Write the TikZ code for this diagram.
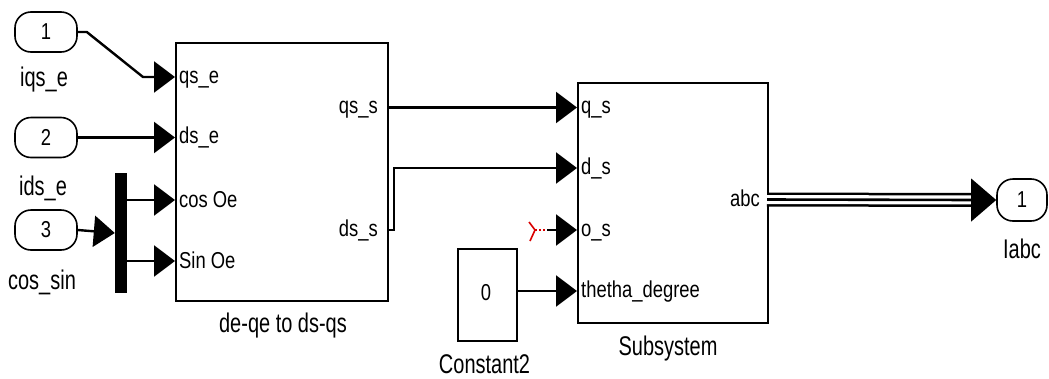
\documentclass[tikz,border=0pt]{standalone}
\usepackage{fontspec}
\newfontfamily\inlblfont[FakeStretch=0.8]{Liberation Sans}
\newfontfamily\outlblfont[FakeStretch=0.74]{Liberation Sans}
\usetikzlibrary{arrows.meta,calc}
\newcommand\skin{\inlblfont\fontsize{23}{23}\selectfont}
\newcommand\skout{\outlblfont\fontsize{27}{27}\selectfont}
\tikzset{
  blk/.style={draw, line width=1.8pt, inner sep=0pt, anchor=north west},
  port/.style={draw, line width=1.6pt, rounded corners=16pt, minimum width=62pt,
               minimum height=40pt, inner sep=0pt, font=\skin},
  inl/.style={font=\skin, inner sep=0pt},
  outl/.style={font=\skout, inner sep=0pt, anchor=base},
  sig/.style={line width=2.4pt},
  arr/.style={sig, -{Triangle[length=21pt,width=31pt]}},
}
\begin{document}
\begin{tikzpicture}[x=1pt,y=-1pt]
\useasboundingbox (0,0) rectangle (1049,378);

% inports
\node[port] (in1) at (46,32) {1};
\node[port] (in2) at (46,137.5) {2};
\node[port] (in3) at (46,230) {3};
\node[outl] at (44,86) {iqs\_e};
\node[outl] at (43,195) {ids\_e};
\node[outl] at (42,289) {cos\_sin};

% mux bar
\node[fill, minimum width=12pt, minimum height=120pt, inner sep=0pt] (mux) at (121,233) {};

% de-qe to ds-qs block
\node[blk, minimum width=212pt, minimum height=258pt] (b1) at (175,42) {};
\coordinate (b1i1) at (175,77);
\coordinate (b1i2) at (175,137.5);
\coordinate (b1i3) at (175,200);
\coordinate (b1i4) at (175,261);
\coordinate (b1o1) at (387,107.5);
\coordinate (b1o2) at (387,230);
\node[inl, anchor=base west] at ($(b1i1)+(4,6)$) {qs\_e};
\node[inl, anchor=base west] at ($(b1i2)+(4,6)$) {ds\_e};
\node[inl, anchor=base west] at ($(b1i3)+(4,7)$) {cos Oe};
\node[inl, anchor=base west] at ($(b1i4)+(4,7)$) {Sin Oe};
\node[inl, anchor=base east] at ($(b1o1)+(-9,6)$) {qs\_s};
\node[inl, anchor=base east] at ($(b1o2)+(-9,6)$) {ds\_s};
\node[outl] at (283,332) {de-qe to ds-qs};

% constant block
\node[blk, minimum width=59pt, minimum height=92pt] (c2) at (457,248) {};
\coordinate (c2o) at (516,291);
\node[inl, anchor=base] at (486,300) {0};
\node[outl] at (484.5,373) {Constant2};

% subsystem block
\node[blk, minimum width=190pt, minimum height=240pt] (sub) at (577,82) {};
\coordinate (s1) at (577,107.5);
\coordinate (s2) at (577,168);
\coordinate (s3) at (577,230);
\coordinate (s4) at (577,291);
\coordinate (so) at (767,199.5);
\node[inl, anchor=base west] at ($(s1)+(4,6)$) {q\_s};
\node[inl, anchor=base west] at ($(s2)+(4,6)$) {d\_s};
\node[inl, anchor=base west] at ($(s3)+(4,6)$) {o\_s};
\node[inl, anchor=base west] at ($(s4)+(4,6)$) {thetha\_degree};
\node[inl, anchor=base east] at ($(so)+(-7,7)$) {abc};
\node[outl] at (668,355) {Subsystem};

% outport
\node[port, minimum width=50pt, minimum height=42pt] (out1) at (1022,200) {1};
\node[outl] at (1022,258) {Iabc};

% signal lines
\draw[arr] (in1.east) -- ++(9,0) -- (143,77) -- (b1i1);
\draw[arr] (in2.east) -- (b1i2);
\draw[arr] (in3.east) -- (mux.west);
\draw[arr] (mux.east |- b1i3) -- (b1i3);
\draw[arr] (mux.east |- b1i4) -- (b1i4);
\draw[arr] (b1o1) -- (s1);
\draw[arr] (b1o2) -- ++(7,0) |- (s2);
\draw[arr] (c2o) -- (s4);

% unconnected input
\coordinate (fork) at (535,230);
\draw[red!85!black, line width=1.6pt] (529,222) -- (fork) -- (530,241);
\draw[red!85!black, line width=1.6pt, dash pattern=on 2pt off 2pt] (fork) -- (549,230);
\draw[arr] (547,230) -- (s3);

% bus to outport
\coordinate (busend) at ($(out1.west)+(-22,0)$);
\draw[line width=14pt] (so) -- (busend);
\draw[line width=9pt, white] (so) -- (busend);
\draw[line width=2.6pt] (so) -- (busend);
\fill ($(out1.west)+(-25,-21.5)$) -- (out1.west) -- ($(out1.west)+(-25,21.5)$) -- cycle;
\end{tikzpicture}
\end{document}
